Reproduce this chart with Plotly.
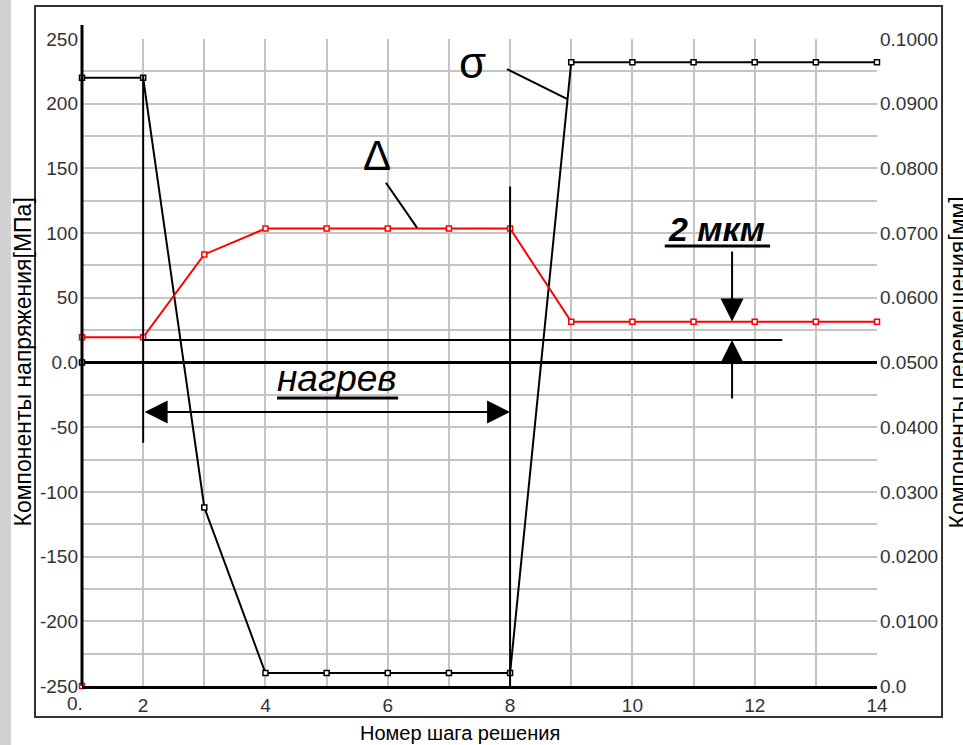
import plotly.graph_objects as go

# ---- data ----
steps_sigma = [1, 1, 2, 3, 4, 5, 6, 7, 8, 9, 10, 11, 12, 13, 14]
sigma_mpa = [0, 220, 220, -112, -240, -240, -240, -240, -240, 232, 232, 232, 232, 232, 232]

steps_delta = [1, 1, 2, 3, 4, 5, 6, 7, 8, 9, 10, 11, 12, 13, 14]
delta_mm = [0.0, 0.0539, 0.0539, 0.0667, 0.0707, 0.0707, 0.0707, 0.0707, 0.0707,
            0.0563, 0.0563, 0.0563, 0.0563, 0.0563, 0.0563]

x_tickvals = list(range(1, 15))
x_ticktext = ["" if (v % 2 == 1) else str(v) for v in x_tickvals]

y_tickvals = list(range(-250, 251, 25))
y_ticktext = [("0.0" if v == 0 else str(v)) if v % 50 == 0 else "" for v in y_tickvals]

y2_tickvals = [i / 100 for i in range(0, 11)]
y2_ticktext = ["0.0"] + ["%.4f" % v for v in y2_tickvals[1:]]

FONT = "Liberation Sans, Arial, sans-serif"

fig = go.Figure()
fig.add_trace(go.Scatter(
    x=steps_sigma, y=sigma_mpa, mode="lines+markers",
    line=dict(color="black", width=2),
    marker=dict(symbol="square", size=5, color="white", line=dict(color="black", width=1.5)),
    cliponaxis=False, showlegend=False))
fig.add_trace(go.Scatter(
    x=steps_delta, y=delta_mm, mode="lines+markers", yaxis="y2",
    line=dict(color="#ff0000", width=2),
    marker=dict(symbol="square", size=5, color="white", line=dict(color="#ff0000", width=1.5)),
    cliponaxis=False, showlegend=False))

grid = "#c4c4c4"
fig.update_layout(
    width=963, height=745,
    margin=dict(l=82, r=86, t=39, b=59),
    paper_bgcolor="white", plot_bgcolor="white",
    font=dict(family=FONT, color="#222"),
    xaxis=dict(range=[1, 14], tickmode="array", tickvals=x_tickvals, ticktext=x_ticktext,
               showgrid=True, gridcolor=grid, gridwidth=1.5, zeroline=False,
               showline=True, linecolor="black", linewidth=3,
               ticks="", tickfont=dict(size=19, color="#333")),
    yaxis=dict(range=[-250, 250], tickmode="array", tickvals=y_tickvals, ticktext=y_ticktext,
               showgrid=True, gridcolor=grid, gridwidth=1.5,
               zeroline=True, zerolinecolor="black", zerolinewidth=3,
               showline=False, ticks="", ticklabelstandoff=3,
               tickfont=dict(size=19, color="#333")),
    yaxis2=dict(range=[0, 0.1], overlaying="y", side="right", tickmode="array",
                tickvals=y2_tickvals, ticktext=y2_ticktext, showgrid=False, zeroline=False,
                showline=False, ticks="", ticklabelstandoff=2,
                tickfont=dict(size=19, color="#333")),
)

shapes = []
# left gray strip
shapes.append(dict(type="rect", xref="paper", yref="paper", x0=-0.1031, x1=-0.0893,
                   y0=-0.1, y1=1.07, fillcolor="#d2d2d2", line=dict(width=0), layer="below"))
# outer frame
shapes.append(dict(type="rect", xref="paper", yref="paper", x0=-0.0591, x1=1.0818,
                   y0=-0.0479, y1=1.051, line=dict(color="#333", width=2)))
# left axis line, extended above the top
shapes.append(dict(type="line", xref="paper", yref="paper", x0=0, x1=0, y0=0, y1=1.0216,
                   line=dict(color="black", width=3)))
# bracket verticals
shapes.append(dict(type="line", xref="x", yref="y", x0=2, x1=2, y0=222, y1=-62,
                   line=dict(color="black", width=2)))
shapes.append(dict(type="line", xref="x", yref="y", x0=8, x1=8, y0=136, y1=-250,
                   line=dict(color="black", width=2)))
# reference horizontal line
shapes.append(dict(type="line", xref="x", yref="y", x0=2, x1=12.45, y0=17.4, y1=17.4,
                   line=dict(color="black", width=2)))
# sigma / delta leader lines
shapes.append(dict(type="line", xref="x", yref="y", x0=7.95, x1=8.93, y0=226.8, y1=203.7,
                   line=dict(color="black", width=2)))
shapes.append(dict(type="line", xref="x", yref="y", x0=5.97, x1=6.48, y0=138.9, y1=104,
                   line=dict(color="black", width=2)))
# underlines
shapes.append(dict(type="line", xref="x", yref="y", x0=4.19, x1=6.17, y0=-27.4, y1=-27.4,
                   line=dict(color="black", width=3)))
shapes.append(dict(type="line", xref="x", yref="y", x0=10.53, x1=12.25, y0=90, y1=90,
                   line=dict(color="black", width=3)))
fig.update_layout(shapes=shapes)

ann = []
# axis titles
ann.append(dict(text="Номер шага решения", xref="paper", yref="paper", x=(460 - 82) / 795,
                y=(686 - 733) / 647, showarrow=False, xanchor="center", yanchor="middle",
                font=dict(size=20, color="black", family=FONT)))
ann.append(dict(text="Компоненты напряжения[МПа]", xref="paper", yref="paper",
                x=(22 - 82) / 795, y=0.5, textangle=-90, showarrow=False,
                xanchor="center", yanchor="middle", font=dict(size=23, color="black", family=FONT)))
ann.append(dict(text="Компоненты перемещения[мм]", xref="paper", yref="paper",
                x=(957 - 82) / 795, y=0.5, textangle=-90, showarrow=False,
                xanchor="center", yanchor="middle", font=dict(size=23, color="black", family=FONT)))
# "0." x tick label
ann.append(dict(text="0.", xref="paper", yref="paper", x=(75 - 82) / 795, y=(686 - 703) / 647,
                showarrow=False, xanchor="center", yanchor="middle",
                font=dict(size=19, color="#333", family=FONT)))
# symbols
ann.append(dict(text="σ", x=7.38, y=232, xref="x", yref="y", showarrow=False,
                font=dict(size=44, color="black", family=FONT)))
ann.append(dict(text="Δ", x=5.82, y=160, xref="x", yref="y", showarrow=False,
                font=dict(size=42, color="black", family=FONT)))
# labels
ann.append(dict(text="<b><i>2 мкм</i></b>", x=11.38, y=103, xref="x", yref="y", showarrow=False,
                font=dict(size=34, color="black", family=FONT)))
ann.append(dict(text="<i>нагрев</i>", x=5.17, y=-12, xref="x", yref="y", showarrow=False,
                font=dict(size=37, color="black", family=FONT)))
# arrows
ann.append(dict(x=11.63, y=31.6, ax=11.63, ay=87, xref="x", yref="y", axref="x", ayref="y",
                text="", showarrow=True, arrowhead=2, arrowsize=2.3, arrowwidth=2, arrowcolor="black"))
ann.append(dict(x=11.63, y=17.4, ax=11.63, ay=-29, xref="x", yref="y", axref="x", ayref="y",
                text="", showarrow=True, arrowhead=2, arrowsize=2.3, arrowwidth=2, arrowcolor="black"))
ann.append(dict(x=8, y=-38.3, ax=2, ay=-38.3, xref="x", yref="y", axref="x", ayref="y",
                text="", showarrow=True, arrowhead=2, startarrowhead=2, arrowside="end+start",
                arrowsize=2.3, startarrowsize=2.3, arrowwidth=2, arrowcolor="black"))
fig.update_layout(annotations=ann)

fig.write_html("out.html")
